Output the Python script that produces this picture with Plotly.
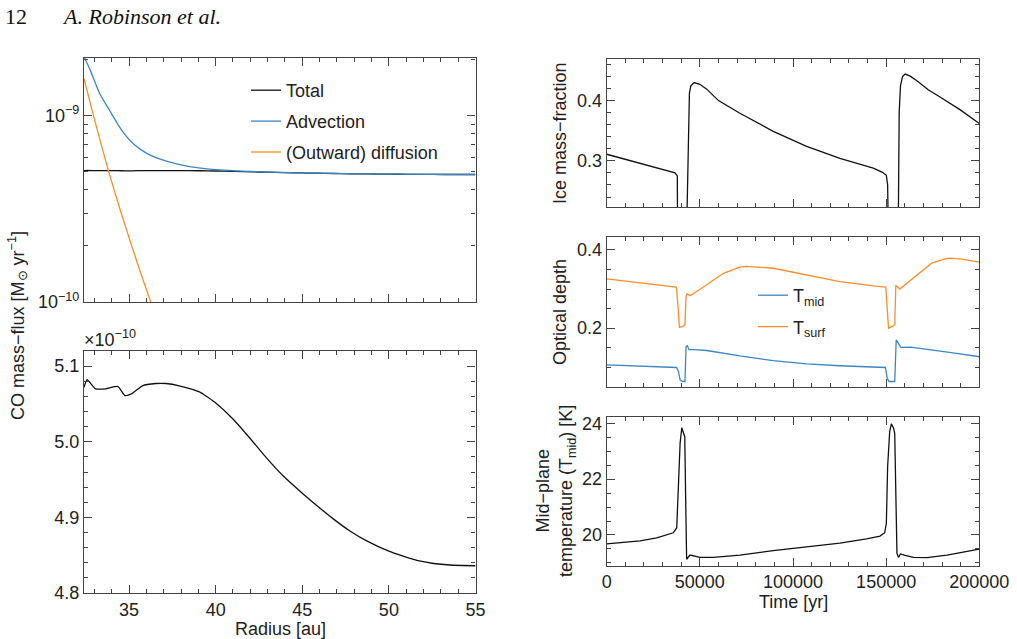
import plotly.graph_objects as go

# ---------------- data ----------------
# Left panels: CO mass flux vs radius
radius = [32.4, 32.58, 33.07, 33.65, 34.36, 34.77, 35.19, 35.77, 36.55, 37.13, 37.9,
          39.06, 40.02, 41.0, 42.15, 42.92, 43.89, 45.0, 45.82, 46.79, 47.75, 48.72,
          50.03, 50.65, 51.62, 52.58, 53.55, 55.0]
total_e10 = [5.072, 5.082, 5.070, 5.070, 5.073, 5.061, 5.064, 5.074, 5.077, 5.077, 5.074,
             5.066, 5.051, 5.030, 5.000, 4.979, 4.955, 4.932, 4.916, 4.898, 4.882, 4.869,
             4.855, 4.850, 4.843, 4.839, 4.837, 4.836]

radius_adv = [32.4, 32.8, 33.3, 33.9, 34.6, 35.3, 36.0, 36.8, 37.8, 39.0, 40.5, 42.0, 45.0, 50.0, 55.0]
advection = [2.08e-9, 1.72e-9, 1.32e-9, 1.06e-9, 8.3e-10, 7.0e-10, 6.3e-10, 5.85e-10,
             5.5e-10, 5.25e-10, 5.10e-10, 5.02e-10, 4.935e-10, 4.855e-10, 4.837e-10]

radius_diff = [32.4, 33.0, 33.8, 34.5, 35.2, 35.8, 36.3, 37.0]
diffusion = [1.58e-9, 9.6e-10, 5.1e-10, 3.1e-10, 1.94e-10, 1.32e-10, 9.7e-11, 6.3e-11]

# Right panels: time series
t_ice = [0, 17900, 36670, 37900, 38100, 42700, 43000, 43800, 44400, 45100, 46900, 50000,
         53700, 60000, 71500, 89400, 107300, 125200, 143100, 148000, 150100, 150800, 151300,
         156400, 157000, 157700, 158800, 160200, 162700, 166500, 172600, 178900, 189600, 200000]
ice = [0.311, 0.296, 0.280, 0.275, 0.15, 0.15, 0.20, 0.373, 0.412, 0.424, 0.430, 0.427,
       0.419, 0.400, 0.379, 0.349, 0.324, 0.304, 0.288, 0.281, 0.276, 0.26, 0.15,
       0.15, 0.38, 0.425, 0.44, 0.444, 0.441, 0.433, 0.418, 0.406, 0.385, 0.362]

t_surf = [0, 37400, 38300, 39000, 40800, 42000, 42600, 43100, 44700, 46500, 53700, 62600,
          71500, 75100, 89400, 107300, 125200, 143100, 149800, 150500, 151300, 153100, 154600,
          155200, 156100, 157300, 165400, 174400, 183300, 189600, 200000]
tau_surf = [0.326, 0.305, 0.255, 0.2026, 0.204, 0.2085, 0.281, 0.288, 0.283, 0.288, 0.311, 0.340,
            0.356, 0.358, 0.353, 0.336, 0.319, 0.308, 0.305, 0.255, 0.200, 0.204, 0.2085,
            0.308, 0.306, 0.300, 0.332, 0.366, 0.379, 0.377, 0.3685]

t_mid = [0, 37500, 38500, 39400, 40800, 42000, 42600, 43300, 44200, 47000, 53700, 71500,
         89400, 107300, 125200, 143100, 149600, 150600, 151500, 154600, 155400, 156500, 157900,
         163200, 172600, 186900, 200000]
tau_mid = [0.1064, 0.0996, 0.0894, 0.068, 0.0638, 0.0638, 0.153, 0.155, 0.145, 0.145, 0.143, 0.129,
           0.117, 0.109, 0.104, 0.1013, 0.0996, 0.0723, 0.0638, 0.0638, 0.170, 0.162, 0.151,
           0.1515, 0.146, 0.136, 0.127]

t_temp = [0, 17900, 26800, 35800, 37600, 38500, 39400, 40300, 41900, 42400, 42900, 44700, 46500,
          50100, 57200, 71500, 89400, 107300, 125200, 139500, 146700, 149200, 150100, 150800,
          151900, 152800, 154000, 154600, 155200, 155800, 156600, 157700, 160200, 164700, 171900,
          182600, 200000]
temp = [19.68, 19.79, 19.90, 20.08, 20.26, 21.85, 23.28, 23.84, 23.52, 21.25, 19.13, 19.28, 19.26,
        19.20, 19.20, 19.28, 19.44, 19.58, 19.71, 19.86, 19.96, 20.08, 20.42, 22.45,
        23.70, 23.98, 23.82, 23.64, 21.49, 19.34, 19.20, 19.32, 19.27, 19.20, 19.19,
        19.28, 19.49]

# ---------------- styling ----------------
W, H = 1017, 639
FONT = "Liberation Sans"
TXT = "#222222"
AX = "#444444"
BLACK = "#111111"
BLUE = "#3b86c6"
ORANGE = "#f98e2b"
FS = 18


def px(x):
    return x / W


def py(y):
    return 1 - y / H


fig = go.Figure()

# top-left (log)
fig.add_trace(go.Scatter(x=radius, y=[v * 1e-10 for v in total_e10], mode="lines",
                         line=dict(color=BLACK, width=1.3, shape="spline", smoothing=0.5), name="Total",
                         xaxis="x", yaxis="y", legend="legend", legendgroup="a"))
fig.add_trace(go.Scatter(x=radius_adv, y=advection, mode="lines",
                         line=dict(color=BLUE, width=1.3, shape="spline", smoothing=0.8), name="Advection",
                         xaxis="x", yaxis="y", legend="legend", legendgroup="b"))
fig.add_trace(go.Scatter(x=radius_diff, y=diffusion, mode="lines",
                         line=dict(color=ORANGE, width=1.3, shape="spline", smoothing=0.6),
                         name="(Outward) diffusion",
                         xaxis="x", yaxis="y", legend="legend", legendgroup="c"))
# bottom-left
fig.add_trace(go.Scatter(x=radius, y=total_e10, mode="lines",
                         line=dict(color=BLACK, width=1.3, shape="spline", smoothing=0.5),
                         xaxis="x2", yaxis="y2", showlegend=False))
# right panels
fig.add_trace(go.Scatter(x=t_ice, y=ice, mode="lines", line=dict(color=BLACK, width=1.3),
                         xaxis="x3", yaxis="y3", showlegend=False))
fig.add_trace(go.Scatter(x=t_mid, y=tau_mid, mode="lines", line=dict(color=BLUE, width=1.3),
                         name="T<sub>mid</sub>", xaxis="x4", yaxis="y4",
                         legend="legend2", legendgroup="m"))
fig.add_trace(go.Scatter(x=t_surf, y=tau_surf, mode="lines", line=dict(color=ORANGE, width=1.3),
                         name="T<sub>surf</sub>", xaxis="x4", yaxis="y4",
                         legend="legend2", legendgroup="s"))
fig.add_trace(go.Scatter(x=t_temp, y=temp, mode="lines", line=dict(color=BLACK, width=1.3),
                         xaxis="x5", yaxis="y5", showlegend=False))


def axis(domain, rng, anchor, showlabels=True, **kw):
    d = dict(domain=domain, range=rng, anchor=anchor, showline=True, linecolor=AX,
             linewidth=1.2, mirror="ticks", ticks="inside", ticklen=8, tickwidth=1,
             tickcolor=AX, showgrid=False, zeroline=False, showticklabels=showlabels,
             automargin=False, tickfont=dict(family=FONT, size=FS, color=TXT))
    d.update(kw)
    return d


def minor_std(dt):
    return dict(dtick=dt, ticklen=4, tickwidth=1, tickcolor=AX, ticks="inside", showgrid=False)


LX = [px(84), px(475.5)]
RX = [px(606.7), px(979.3)]

layout = dict(
    width=W, height=H, autosize=False,
    margin=dict(l=0, r=0, t=0, b=0, pad=0, autoexpand=False),
    paper_bgcolor="white", plot_bgcolor="white",
    font=dict(family=FONT, size=FS, color=TXT),
    xaxis=axis(LX, [32.4, 55], "y", False, dtick=5, tick0=0, minor=minor_std(1)),
    yaxis=axis([py(302), py(58)], [-10, -8.69], "x", True, type="log",
               tickvals=[1e-10, 1e-9], ticktext=["10<sup>−10</sup>", "10<sup>−9</sup>"],
               minor=dict(tickvals=[2e-10, 3e-10, 4e-10, 5e-10, 6e-10, 7e-10, 8e-10, 9e-10, 2e-9],
                          ticklen=4, tickwidth=1, tickcolor=AX, ticks="inside", showgrid=False)),
    xaxis2=axis(LX, [32.4, 55], "y2", True, dtick=5, tick0=0, minor=minor_std(1)),
    yaxis2=axis([py(593), py(351)], [4.8, 5.12], "x2", True, dtick=0.1, tick0=0,
                tickformat=".1f", minor=minor_std(0.02)),
    xaxis3=axis(RX, [0, 200000], "y3", False, dtick=50000, tick0=0, minor=minor_std(10000)),
    yaxis3=axis([py(207.3), py(59)], [0.223, 0.469], "x3", True, dtick=0.1, tick0=0,
                tickformat=".1f", minor=minor_std(0.02)),
    xaxis4=axis(RX, [0, 200000], "y4", False, dtick=50000, tick0=0, minor=minor_std(10000)),
    yaxis4=axis([py(387.3), py(237.3)], [0.049, 0.432], "x4", True, dtick=0.2, tick0=0,
                tickformat=".1f", minor=minor_std(0.05)),
    xaxis5=axis(RX, [0, 200000], "y5", True, dtick=50000, tick0=0, tickformat="d",
                minor=minor_std(10000)),
    yaxis5=axis([py(565.7), py(417.3)], [18.9, 24.215], "x5", True, dtick=2, tick0=0,
                minor=minor_std(0.5)),
    legend=dict(x=px(246), y=py(72), xanchor="left", yanchor="top", bgcolor="rgba(0,0,0,0)",
                borderwidth=0, font=dict(family=FONT, size=FS, color=TXT),
                tracegroupgap=4.5, traceorder="grouped", itemwidth=30),
    legend2=dict(x=px(753), y=py(277), xanchor="left", yanchor="top", bgcolor="rgba(0,0,0,0)",
                 borderwidth=0, font=dict(family=FONT, size=FS, color=TXT),
                 tracegroupgap=5, traceorder="grouped", itemwidth=30),
)
fig.update_layout(**layout)

ann = []


def note(text, x, y, xanchor="center", yanchor="middle", angle=0, size=FS, family=FONT, color=TXT):
    ann.append(dict(text=text, x=px(x), y=py(y), xref="paper", yref="paper", showarrow=False,
                    xanchor=xanchor, yanchor=yanchor, textangle=angle,
                    font=dict(family=family, size=size, color=color)))


note("12", 3, 16, xanchor="left", size=22, family="Liberation Serif", color="#111")
note("<i>A. Robinson et al.</i>", 60, 16, xanchor="left", size=22, family="Liberation Serif", color="#111")
note("×10<sup>−10</sup>", 82, 338, xanchor="left")
note("CO mass−flux [M<sub>⊙</sub> yr<sup>−1</sup>]", 17, 326, angle=-90)
note("Radius [au]", 280, 629)
note("Ice mass−fraction", 560, 133, angle=-90)
note("Optical depth", 560, 312, angle=-90)
note("Mid−plane<br>temperature (T<sub>mid</sub>) [K]", 556, 491, angle=-90)
note("Time [yr]", 793, 602)

fig.update_layout(annotations=ann)
fig.write_html("out.html")
